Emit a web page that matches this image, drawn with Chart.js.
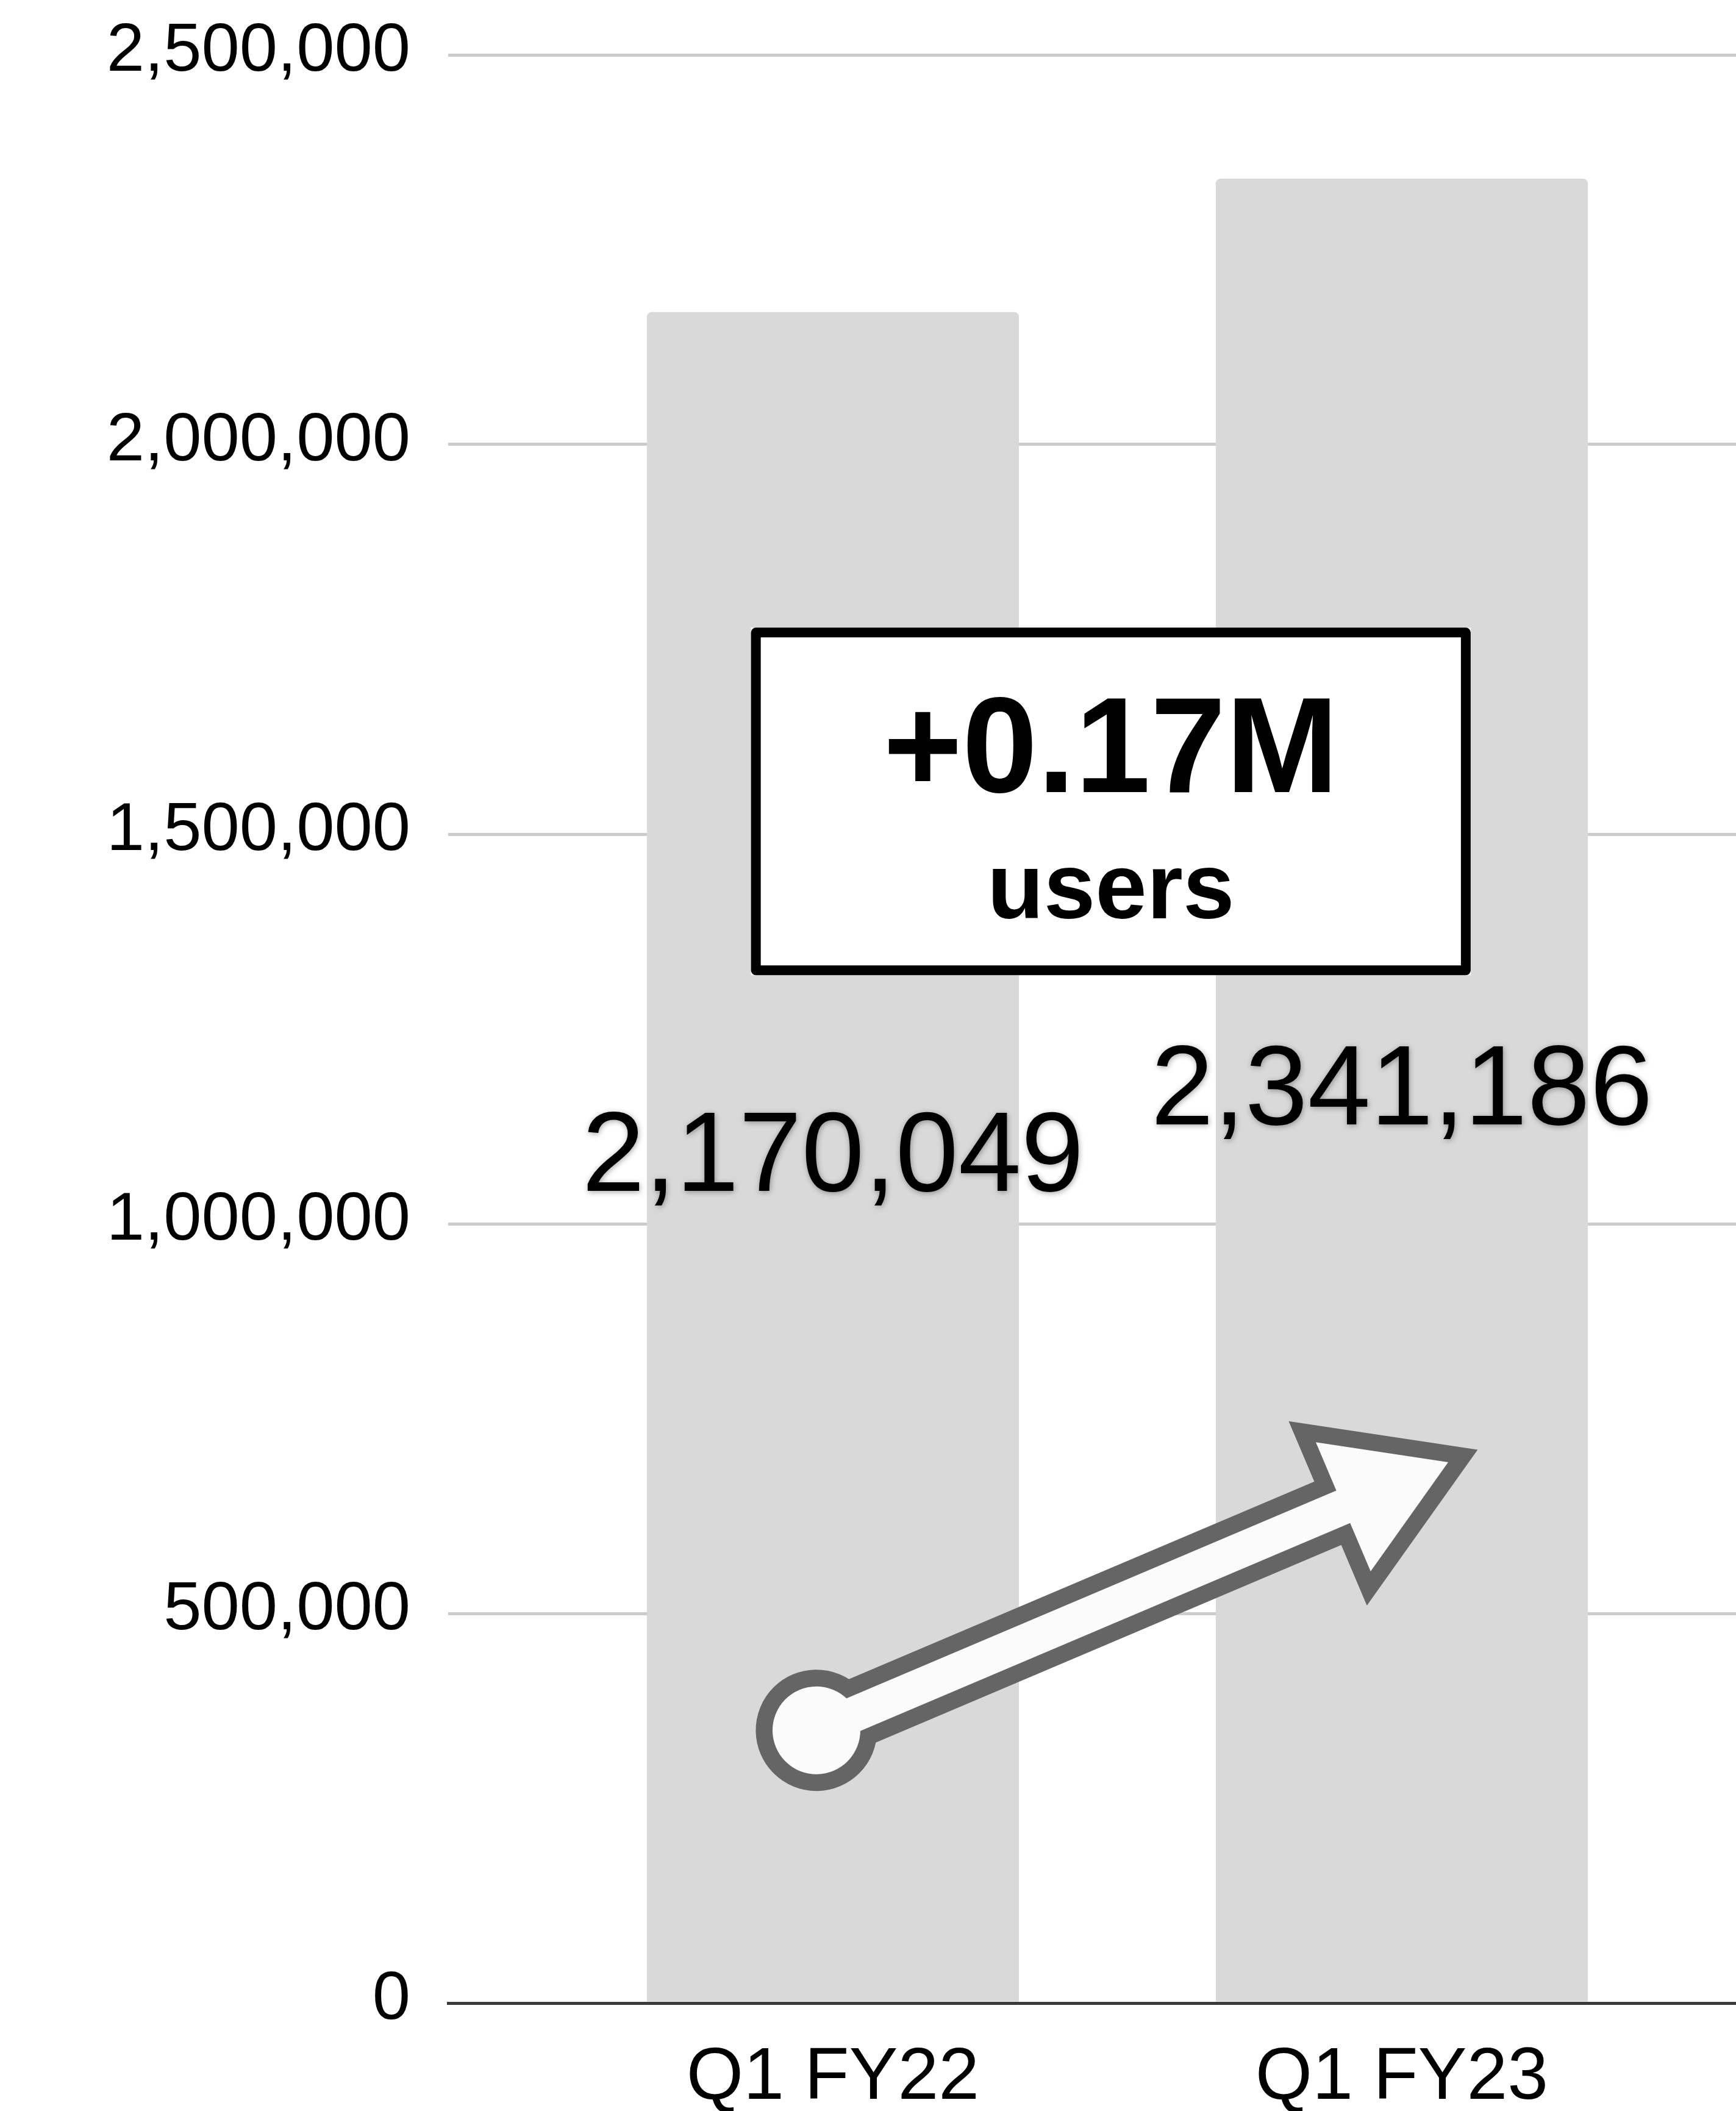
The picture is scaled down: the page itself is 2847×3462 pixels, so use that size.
<!DOCTYPE html>
<html>
<head>
<meta charset="utf-8">
<script src="https://cdn.jsdelivr.net/npm/chart.js@4/dist/chart.umd.min.js"></script>
<style>
  html, body { margin: 0; padding: 0; background: #fff; overflow: hidden; }
  canvas { display: block; }
</style>
</head>
<body>
<canvas id="usersChart" width="2847" height="3462"></canvas>
<script>
// Datos del gráfico
const categories = ['Q1 FY22', 'Q1 FY23'];
const users = [2170049, 2341186];
const yTicks = [0, 500000, 1000000, 1500000, 2000000, 2500000];
const changeText = ['+0.17M', 'users'];

// Posiciones de las anotaciones (en unidades de las escalas)
const boxX = [-0.144, 1.121];
const boxY = [1765000, 1319000];
const arrowFrom = [-0.029, 350000];
const arrowTo = [1.0815, 694000];

const FONT = '"Liberation Sans", Arial, sans-serif';

// Etiquetas de valor en el centro de cada barra
const valueLabels = {
    id: 'valueLabels',
    afterDatasetsDraw(chart) {
        const ctx = chart.ctx;
        const bars = chart.getDatasetMeta(0).data;
        ctx.save();
        ctx.font = '185px ' + FONT;
        ctx.textAlign = 'center';
        ctx.textBaseline = 'alphabetic';
        ctx.fillStyle = '#000';
        ctx.shadowColor = 'rgba(0,0,0,0.35)';
        ctx.shadowBlur = 10;
        ctx.shadowOffsetX = 1;
        ctx.shadowOffsetY = 2;
        bars.forEach((bar, i) => {
            const mid = (bar.y + bar.base) / 2;
            ctx.fillText(users[i].toLocaleString('en-US'), bar.x, mid + 56);
        });
        ctx.restore();
    }
};

// Flecha y recuadro con la diferencia
const annotations = {
    id: 'annotations',
    afterDatasetsDraw(chart) {
        const ctx = chart.ctx;
        const xs = chart.scales.x;
        const ys = chart.scales.y;

        // flecha
        const sx = xs.getPixelForValue(arrowFrom[0]);
        const sy = ys.getPixelForValue(arrowFrom[1]);
        const tx = xs.getPixelForValue(arrowTo[0]);
        const ty = ys.getPixelForValue(arrowTo[1]);
        const len = Math.hypot(tx - sx, ty - sy);
        const headLen = 187, headHalf = 115, shaftHalf = 29, dotR = 72;

        ctx.save();
        ctx.translate(sx, sy);
        ctx.rotate(Math.atan2(ty - sy, tx - sx));
        const arrow = new Path2D();
        arrow.moveTo(0, -shaftHalf);
        arrow.lineTo(len - headLen, -shaftHalf);
        arrow.lineTo(len - headLen, -headHalf);
        arrow.lineTo(len, 0);
        arrow.lineTo(len - headLen, headHalf);
        arrow.lineTo(len - headLen, shaftHalf);
        arrow.lineTo(0, shaftHalf);
        arrow.closePath();
        const dot = new Path2D();
        dot.arc(0, 0, dotR, 0, Math.PI * 2);
        ctx.lineWidth = 55;
        ctx.lineJoin = 'miter';
        ctx.miterLimit = 10;
        ctx.strokeStyle = '#656565';
        ctx.stroke(arrow);
        ctx.stroke(dot);
        ctx.fillStyle = '#fbfbfb';
        ctx.fill(arrow);
        ctx.fill(dot);
        ctx.restore();

        // recuadro
        const x0 = xs.getPixelForValue(boxX[0]);
        const x1 = xs.getPixelForValue(boxX[1]);
        const y0 = ys.getPixelForValue(boxY[0]);
        const y1 = ys.getPixelForValue(boxY[1]);
        const bw = 16;
        ctx.save();
        ctx.fillStyle = '#fff';
        ctx.fillRect(x0, y0, x1 - x0, y1 - y0);
        ctx.lineWidth = bw;
        ctx.lineJoin = 'round';
        ctx.strokeStyle = '#000';
        ctx.strokeRect(x0 + bw / 2, y0 + bw / 2, x1 - x0 - bw, y1 - y0 - bw);
        ctx.fillStyle = '#000';
        ctx.textAlign = 'center';
        ctx.textBaseline = 'alphabetic';
        const cx = (x0 + x1) / 2;
        ctx.font = 'bold 222px ' + FONT;
        ctx.fillText(changeText[0], cx, y0 + 270);
        ctx.font = 'bold 152px ' + FONT;
        ctx.fillText(changeText[1], cx, y0 + 477);
        ctx.restore();
    }
};

const ctx = document.getElementById('usersChart').getContext('2d');
const usersChart = new Chart(ctx, {
    type: 'bar',
    data: {
        datasets: [{
            data: categories.map((c, i) => ({ x: i, y: users[i] })),
            backgroundColor: '#d9d9d9',
            borderRadius: 8,
            categoryPercentage: 1,
            barPercentage: 0.654,
        }],
    },
    options: {
        responsive: false,
        devicePixelRatio: 1,
        animation: false,
        layout: { padding: { top: 90, right: 0, bottom: 0, left: 0 } },
        plugins: {
            legend: { display: false },
            tooltip: { enabled: false },
        },
        scales: {
            x: {
                type: 'linear',
                min: -0.6763,
                max: 1.5874,
                offset: false,
                grid: { display: false },
                border: { color: '#3a3a3a', width: 5, z: 1 },
                ticks: {
                    padding: 44,
                    color: '#000',
                    font: { family: FONT, size: 120 },
                    callback: (v) => categories[v],
                },
                afterBuildTicks: (scale) => {
                    scale.ticks = categories.map((c, i) => ({ value: i }));
                },
                afterFit: (scale) => {
                    scale.height = 177;
                    scale.paddingLeft = 0;
                    scale.paddingRight = 0;
                },
            },
            y: {
                min: 0,
                max: 2500000,
                grid: { color: '#cccccc', lineWidth: 5, drawTicks: false },
                border: { display: false },
                ticks: {
                    padding: 62,
                    labelOffset: -5,
                    color: '#000',
                    font: { family: FONT, size: 112 },
                    callback: (v) => v.toLocaleString('en-US'),
                },
                afterBuildTicks: (scale) => {
                    scale.ticks = yTicks.map(v => ({ value: v }));
                },
                afterFit: (scale) => {
                    scale.width = 735;
                    scale.paddingTop = 0;
                    scale.paddingBottom = 0;
                },
            },
        },
    },
    plugins: [valueLabels, annotations],
});
</script>
</body>
</html>
